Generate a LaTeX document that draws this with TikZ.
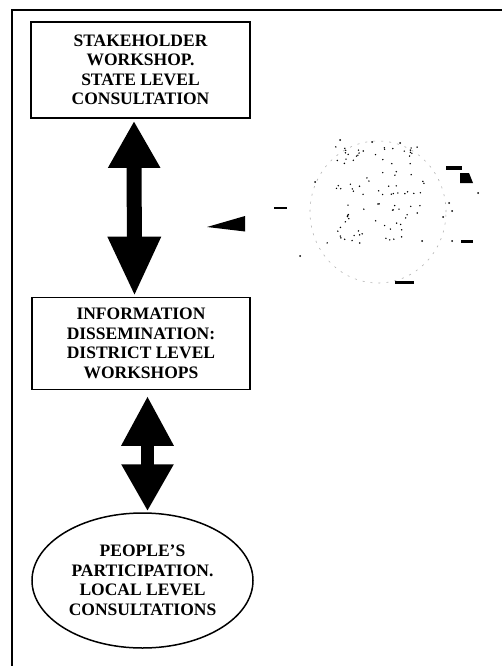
\documentclass[tikz,border=0pt]{standalone}
\usepackage{fontspec}
\setmainfont{Liberation Serif}
\usetikzlibrary{arrows.meta,shapes.geometric}
\begin{document}
\begin{tikzpicture}[x=1pt,y=-1pt,
  txt/.style={align=center, font=\fontsize{17.5}{19.5}\selectfont\bfseries},
  boxst/.style={txt, draw, line width=1.8pt, rectangle, inner sep=0pt},
  ellst/.style={txt, draw, line width=1.5pt, ellipse, inner sep=0pt},
  dblarrow/.style={line width=#1}]
\useasboundingbox (0,0) rectangle (501,666);
\fill[white] (0,0) rectangle (501,666);
% outer frame
\draw[line width=2pt] (12,667) -- (12,10) -- (502,10);
% nodes
\node[boxst, minimum width=219pt, minimum height=96pt] (b1) at (140.5,70)
  {STAKEHOLDER\\WORKSHOP.\\STATE LEVEL\\CONSULTATION};
\node[boxst, minimum width=218pt, minimum height=92pt] (b2) at (141,343.5)
  {INFORMATION\\DISSEMINATION:\\DISTRICT LEVEL\\WORKSHOPS};
\node[ellst, minimum width=221pt, minimum height=135pt] (e3) at (142.5,580.5)
  {PEOPLE'S\\PARTICIPATION.\\LOCAL LEVEL\\CONSULTATIONS};
% double arrows
\draw[dblarrow=15pt, {Triangle[width=49pt,length=47pt]}-{Triangle[width=49pt,length=60pt]}, shorten <=2pt]
  ([xshift=-6.5pt]b1.south) -- ([xshift=-6.5pt]b2.north);
\draw[dblarrow=13pt, {Triangle[width=49pt,length=50pt]}-{Triangle[width=49pt,length=47pt]}, shorten <=5.5pt, shorten >=1pt]
  ([xshift=6.5pt]b2.south) -- ([xshift=5pt]e3.north);
% degraded figure on the right
\fill (207,227) -- (245,216) -- (245,231.5) -- cycle;
\draw[gray!60, line width=0.6pt, dash pattern=on 2pt off 6pt] (378,212) ellipse [x radius=68pt, y radius=71pt];
\fill (274,206.5) rectangle (287,209);
\fill (446,166) rectangle (462,169.5);
\fill (460,173) -- (469,173) -- (473,183) -- (460,183) -- cycle;
\fill (478,193) circle[radius=1pt];
\fill (461,239.5) rectangle (473,242.5);
\fill (395,281) rectangle (414,283.5);
\pgfmathsetseed{17}
\foreach \i in {1,...,55}{
  \pgfmathsetmacro\px{335+90*rnd}
  \pgfmathsetmacro\py{146+50*rnd}
  \fill (\px,\py) circle[radius=0.8pt];
}
\foreach \i in {1,...,40}{
  \pgfmathsetmacro\px{320+100*rnd}
  \pgfmathsetmacro\py{203+40*rnd}
  \fill (\px,\py) circle[radius=0.8pt];
}
\foreach \p in {(315,182),(449,203),(452,211),(443,217),(452,241),(422,241),(300,256),(340,140),(372,142),(400,143)}{
  \fill \p circle[radius=1pt];
}
\end{tikzpicture}
\end{document}
